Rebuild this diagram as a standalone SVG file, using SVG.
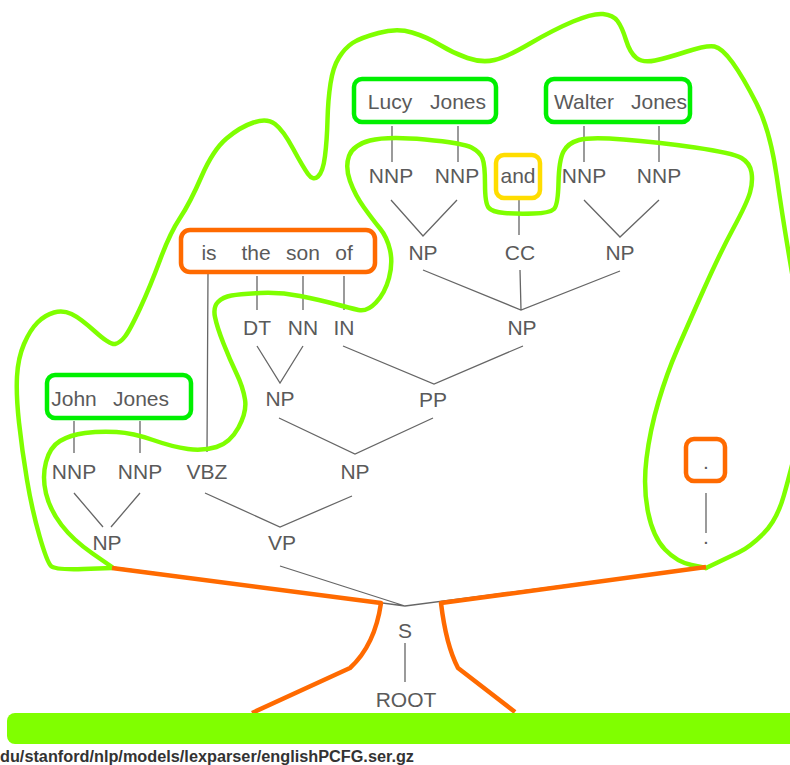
<svg xmlns="http://www.w3.org/2000/svg" width="790" height="765" viewBox="0 0 790 765">
<style>
.t{font-family:"Liberation Sans",Arial,sans-serif;font-size:21px;fill:#5a5a5a;text-anchor:middle}
.e{fill:none;stroke:#666;stroke-width:1.3}
.canopy{fill:none;stroke:#7fff00;stroke-width:4.5;stroke-linejoin:round;stroke-linecap:round}
.gbox{fill:none;stroke:#00f000;stroke-width:4.5}
.obox{fill:none;stroke:#ff6a00;stroke-width:4.5}
.ybox{fill:none;stroke:#ffdd00;stroke-width:4.5}
.trunk{fill:none;stroke:#ff6a00;stroke-width:4.5;stroke-linejoin:round}
</style>
<rect width="790" height="765" fill="#fff"/>
<g id="connectors">
<path class="e" d="M392,126V162M458,126V162M584,126V162M659,126V162M519,200V235"/>
<path class="e" d="M208,272L207,452M257,276V310M303,276V310M344,276V310"/>
<path class="e" d="M74,421V453M140,421V453M706,493V533"/>
<path class="e" d="M391,200L423,236L457,200M584,200L620,237L659,200"/>
<path class="e" d="M423,270L521,310L620,271M520,270L521,310"/>
<path class="e" d="M257,346L280,383L303,346M343,346L434,384L523,346"/>
<path class="e" d="M279,418L355,454L433,418"/>
<path class="e" d="M74,493L103,527M140,493L111,527M205,493L280,527L352,496"/>
<path class="e" d="M112,567L405,606L280,566M405,606L706,567M405,643V682"/>
</g>
<g id="canopy">
<path class="canopy" d="M112,568 L83.5,569 Q55,570 51,566 Q47,562 39.5,536 Q32,510 27,480 Q22,450 19,422.5 Q16,395 17,376.5 Q18,358 24,344 Q30,330 37.5,322.5 Q45,315 54,312.5 Q63,310 71.5,314 Q80,318 95,331.5 Q110,345 115,344 Q120,343 125,336.5 Q130,330 140,308.5 Q150,287 160,260 Q170,233 180,218 Q190,203 201.5,176.5 Q213,150 226.5,138.5 Q240,127 253.5,122.5 Q267,118 275,124 Q283,130 293,148.5 Q303,167 308,174 Q313,181 318,176.5 Q323,172 325,156 Q327,140 327.5,120 Q328,100 330.5,83.5 Q333,67 339,57.5 Q345,48 352.5,43 Q360,38 378.5,33 Q397,28 412,32.5 Q427,37 440,45 Q453,53 467.5,58 Q482,63 494.5,60 Q507,57 530,43.5 Q553,30 573,21.5 Q593,13 603,14 Q613,15 617.5,21 Q622,27 626,40 Q630,53 636.5,58 Q643,63 655,60.5 Q667,58 687,51.5 Q707,45 714.5,46.5 Q722,48 732.5,62.5 Q743,77 756.5,103.5 Q770,130 776.5,175 Q783,220 789,255 Q795,290 800,320 Q805,350 804,385 Q803,420 797,445 Q791,470 784,495 Q777,520 763.5,533.5 Q750,547 738.5,552.5 Q727,558 716.5,563 L706,568"/>
<path class="canopy" d="M112,567 L92.5,553.5 Q73,540 61.5,525 Q50,510 46,493.5 Q42,477 46,462 Q50,447 60,441 Q70,435 85,433 Q100,431 116.5,432 Q133,433 153,440 Q173,447 188,449 Q203,451 216.5,447 Q230,443 238.5,427.5 Q247,412 245,399.5 Q243,387 236.5,373.5 Q230,360 223.5,343.5 Q217,327 215,317 Q213,307 218,302 Q223,297 231.5,295.5 Q240,294 260,293 Q280,292 300,296 Q320,300 335,304 Q350,308 358.5,310 Q367,312 376,302.5 Q385,293 389,278 Q393,263 390,250 Q387,237 380,228.5 Q373,220 364,207.5 Q355,195 350,181 Q345,167 349,156 Q353,145 370,140.5 Q387,136 425,139.5 Q463,143 471.5,147.5 Q480,152 482.5,158.5 Q485,165 485,184 Q485,203 488.5,207.5 Q492,212 504.5,213 Q517,214 533.5,213.5 Q550,213 554,209 Q558,205 558.5,182.5 Q559,160 563.5,151.5 Q568,143 579,140 Q590,137 623.5,139.5 Q657,142 695,147.5 Q733,153 741.5,158 Q750,163 751.5,172.5 Q753,182 750,192.5 Q747,203 733.5,228 Q720,253 703.5,290 Q687,327 677,350 Q667,373 658.5,401.5 Q650,430 646.5,458.5 Q643,487 648,512 Q653,537 665,549.5 Q677,562 691.5,565 L706,568"/>
</g>
<g id="trunk">
<path class="trunk" d="M112,568 L381,603 Q375,645 350,668 L252,713"/>
<path class="trunk" d="M706,567 L441,603 Q446,645 458,668 L515,712"/>
</g>
<rect id="ground" x="7" y="713" width="800" height="31" rx="8" fill="#80ff00"/>
<g id="lucy-jones"><rect class="gbox" x="354" y="79" width="142" height="43" rx="8"/><text class="t" x="390" y="109">Lucy</text><text class="t" x="458" y="109">Jones</text></g>
<g id="walter-jones"><rect class="gbox" x="546" y="79" width="144" height="43" rx="8"/><text class="t" x="584" y="109">Walter</text><text class="t" x="659" y="109">Jones</text></g>
<g id="and"><rect class="ybox" x="496" y="155" width="44" height="43" rx="8"/><text class="t" x="518" y="183">and</text></g>
<g id="is-the-son-of"><rect class="obox" x="181" y="230" width="194" height="42" rx="9"/><text class="t" x="209" y="260">is</text><text class="t" x="256" y="260">the</text><text class="t" x="303" y="260">son</text><text class="t" x="344" y="260">of</text></g>
<g id="john-jones"><rect class="gbox" x="47" y="375" width="144" height="43" rx="8"/><text class="t" x="74" y="406">John</text><text class="t" x="141" y="406">Jones</text></g>
<g id="period"><rect class="obox" x="686" y="439" width="39" height="42" rx="8"/><text class="t" x="706" y="469">.</text></g>
<g id="nnp1"><text class="t" x="391" y="183">NNP</text></g>
<g id="nnp2"><text class="t" x="457" y="183">NNP</text></g>
<g id="nnp3"><text class="t" x="584" y="183">NNP</text></g>
<g id="nnp4"><text class="t" x="659" y="183">NNP</text></g>
<g id="np-lucy"><text class="t" x="423" y="260">NP</text></g>
<g id="cc"><text class="t" x="520" y="260">CC</text></g>
<g id="np-walter"><text class="t" x="620" y="260">NP</text></g>
<g id="dt"><text class="t" x="257" y="335">DT</text></g>
<g id="nn"><text class="t" x="303" y="335">NN</text></g>
<g id="in"><text class="t" x="344" y="335">IN</text></g>
<g id="np-coord"><text class="t" x="522" y="335">NP</text></g>
<g id="np-son"><text class="t" x="280" y="406">NP</text></g>
<g id="pp"><text class="t" x="433" y="407">PP</text></g>
<g id="nnp5"><text class="t" x="74" y="479">NNP</text></g>
<g id="nnp6"><text class="t" x="140" y="479">NNP</text></g>
<g id="vbz"><text class="t" x="207" y="479">VBZ</text></g>
<g id="np-obj"><text class="t" x="355" y="479">NP</text></g>
<g id="np-subj"><text class="t" x="107" y="550">NP</text></g>
<g id="vp"><text class="t" x="282" y="550">VP</text></g>
<g id="period-tag"><text class="t" x="706" y="544">.</text></g>
<g id="s"><text class="t" x="405" y="638">S</text></g>
<g id="root"><text class="t" x="406" y="707">ROOT</text></g>
<text x="0" y="762" font-family="Liberation Sans,Arial,sans-serif" font-size="16" font-weight="bold" fill="#333" textLength="414" lengthAdjust="spacingAndGlyphs">du/stanford/nlp/models/lexparser/englishPCFG.ser.gz</text>
</svg>
